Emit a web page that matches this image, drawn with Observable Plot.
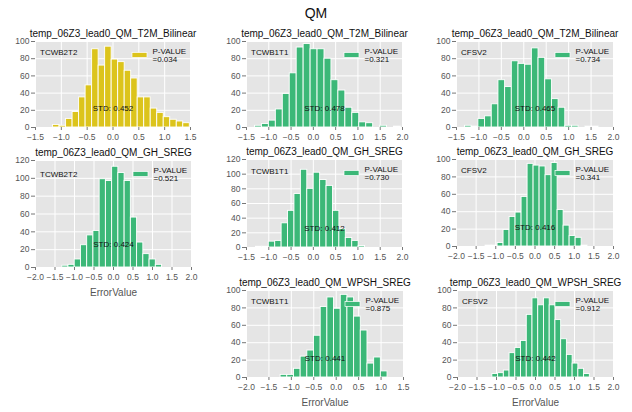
<!DOCTYPE html>
<html>
<head>
<meta charset="utf-8">
<script src="https://cdn.jsdelivr.net/npm/d3@7"></script>
<script src="https://cdn.jsdelivr.net/npm/@observablehq/plot@0.6"></script>
<style>
  html, body { margin: 0; padding: 0; background: #fff; }
  #chart { position: relative; width: 632px; height: 412px; overflow: hidden; font-family: "Liberation Sans", Arial, sans-serif; }
  #title { position: absolute; left: 0; width: 632px; top: 5px; text-align: center; font-size: 14px; color: #111; }
</style>
</head>
<body>
<div id="chart"><div id="title">QM</div></div>
<script>
// ---------- data ----------
const suptitle = "QM";
const panelTitles = [
  "temp_06Z3_lead0_QM_T2M_Bilinear", "temp_06Z3_lead0_QM_T2M_Bilinear", "temp_06Z3_lead0_QM_T2M_Bilinear",
  "temp_06Z3_lead0_QM_GH_SREG", "temp_06Z3_lead0_QM_GH_SREG", "temp_06Z3_lead0_QM_GH_SREG",
  "temp_06Z3_lead0_QM_WPSH_SREG", "temp_06Z3_lead0_QM_WPSH_SREG"
];
const models = ["TCWB2T2", "TCWB1T1", "CFSV2", "TCWB2T2", "TCWB1T1", "CFSV2", "TCWB1T1", "CFSV2"];
const pValues = ["0.034", "0.321", "0.734", "0.521", "0.730", "0.341", "0.875", "0.912"];
const stds = ["0.452", "0.478", "0.465", "0.424", "0.412", "0.416", "0.441", "0.442"];

// histogram bin start, bin width, counts
const binStarts = [-1.16, -1.31, -1.31, -1.315, -1.288, -1.26, -1.24, -1.106];
const binWidths = [0.126, 0.156, 0.149, 0.16, 0.144, 0.153, 0.149, 0.147];
const counts1 = [3, 2, 10, 18, 35, 49, 91, 72, 94, 79, 76, 66, 57, 35, 35, 22, 17, 12, 9, 7, 5];
const counts2 = [2, 4, 8, 21, 39, 63, 93, 97, 91, 91, 80, 55, 43, 23, 17, 6, 5, 0, 2, 0, 1];
const counts3 = [2, 1, 10, 13, 27, 55, 47, 77, 74, 73, 92, 81, 56, 33, 23, 2, 2, 0, 1, 1];
const counts4 = [2, 3, 9, 25, 36, 41, 99, 97, 113, 106, 97, 56, 28, 15, 9, 3];
const counts5 = [1, 1, 8, 9, 33, 50, 73, 106, 80, 102, 92, 84, 50, 25, 13, 9, 2];
const counts6 = [1, 1, 4, 19, 34, 39, 57, 95, 93, 92, 82, 96, 42, 24, 12, 10, 1];
const counts7 = [3, 3, 10, 24, 31, 48, 81, 92, 79, 95, 92, 70, 54, 16, 23, 7];
const counts8 = [4, 5, 8, 28, 34, 42, 72, 91, 83, 91, 83, 66, 44, 26, 16, 10, 4];
const allCounts = [counts1, counts2, counts3, counts4, counts5, counts6, counts7, counts8];

// axis domains / tick labels
const xDomains = [[-1.5, 1.5], [-1.5, 2], [-1.5, 2], [-2, 2], [-1.5, 2], [-2, 2], [-2, 1.5], [-2, 2]];
const xTicks = [
  [-1.5, -1, -0.5, 0, 0.5, 1, 1.5],
  [-1.5, -1, -0.5, 0, 0.5, 1, 1.5, 2],
  [-1.5, -1, -0.5, 0, 0.5, 1, 1.5, 2],
  [-2, -1.5, -1, -0.5, 0, 0.5, 1, 1.5, 2],
  [-1.5, -1, -0.5, 0, 0.5, 1, 1.5, 2],
  [-2, -1.5, -1, -0.5, 0, 0.5, 1, 1.5, 2],
  [-2, -1.5, -1, -0.5, 0, 0.5, 1, 1.5],
  [-2, -1.5, -1, -0.5, 0, 0.5, 1, 1.5, 2]
];
const yMaxes = [100, 100, 100, 120, 120, 100, 100, 100];
const yTicks100 = [0, 20, 40, 60, 80, 100];
const yTicks120 = [0, 20, 40, 60, 80, 100, 120];
const xLabel = "ErrorValue";
const hasXLabel = [false, false, false, true, false, false, true, true];

// ---------- layout (frame boxes in page pixels: left, top, right, bottom) ----------
const frames = [
  [35, 41, 190, 127], [246, 41, 402, 127], [456, 41, 613, 127],
  [35, 160, 191, 267], [246, 159, 402, 247], [456, 159, 613, 246],
  [246, 290, 403, 377], [457, 290, 613, 377]
];
const colors = ["#dcc41c", "#3cb878", "#3cb878", "#3cb878", "#3cb878", "#3cb878", "#3cb878", "#3cb878"];

const ML = 36, MR = 14, MT = 22;
const chart = document.getElementById("chart");
document.getElementById("title").textContent = suptitle;

function legendPatch(color) {
  return (...args) => {
    const d = args.find(a => a && typeof a === "object" && "marginRight" in a && "width" in a);
    return d3.create("svg:rect")
      .attr("x", d.width - d.marginRight - 58)
      .attr("y", d.marginTop + 11.5)
      .attr("width", 15).attr("height", 5)
      .attr("fill", color)
      .attr("stroke", "white").attr("stroke-width", 0.7)
      .node();
  };
}

for (let i = 0; i < 8; i++) {
  const [l, t, r, b] = frames[i];
  const fw = r - l, fh = b - t;
  const MB = hasXLabel[i] ? 34 : 20;
  const bins = allCounts[i].map((c, k) => ({
    x1: binStarts[i] + k * binWidths[i],
    x2: binStarts[i] + (k + 1) * binWidths[i],
    y: c
  }));
  const yt = yMaxes[i] === 120 ? yTicks120 : yTicks100;
  const marks = [
    Plot.frame({fill: "#e5e5e5", stroke: null}),
    Plot.gridX(xTicks[i], {stroke: "white", strokeOpacity: 1, strokeWidth: 1}),
    Plot.gridY(yt, {stroke: "white", strokeOpacity: 1, strokeWidth: 1}),
    Plot.rectY(bins, {x1: "x1", x2: "x2", y: "y", fill: colors[i], stroke: "white", strokeWidth: 0.9}),
    Plot.axisX(xTicks[i], {label: null, tickFormat: d3.format(".1f"), tickSize: 3, tickPadding: 3, stroke: "#777", fill: "#555", fontSize: 8.5}),
    Plot.axisY(yt, {label: null, tickSize: 4, tickPadding: 2, stroke: "#777", fill: "#555", fontSize: 8.5}),
    Plot.text([panelTitles[i]], {frameAnchor: "top", dy: -8, lineAnchor: "middle", fontSize: 10, fill: "#111"}),
    Plot.text([models[i]], {frameAnchor: "top-left", dx: 4.5, dy: 0.13 * fh, lineAnchor: "middle", textAnchor: "start", fontSize: 8, fill: "#111"}),
    Plot.text(["STD: " + stds[i]], {frameAnchor: "bottom", dy: -0.22 * fh, lineAnchor: "middle", fontSize: 8, fill: "#111"}),
    Plot.text(["P-VALUE\n=" + pValues[i]], {frameAnchor: "top-right", dx: -38, dy: 14, lineAnchor: "middle", textAnchor: "start", lineHeight: 1.05, fontSize: 8, fill: "#111"}),
    legendPatch(colors[i])
  ];
  if (hasXLabel[i]) {
    marks.push(Plot.text([xLabel], {frameAnchor: "bottom", dy: 25, lineAnchor: "middle", fontSize: 10, fill: "#555"}));
  }
  const svg = Plot.plot({
    width: fw + ML + MR,
    height: fh + MT + MB,
    marginLeft: ML, marginRight: MR, marginTop: MT, marginBottom: MB,
    x: {domain: xDomains[i], axis: null},
    y: {domain: [0, yMaxes[i]], axis: null},
    style: {fontFamily: "'Liberation Sans', Arial, sans-serif", fontSize: "8.5px", background: "transparent", overflow: "visible"},
    marks
  });
  svg.style.position = "absolute";
  svg.style.left = (l - ML) + "px";
  svg.style.top = (t - MT) + "px";
  chart.appendChild(svg);
}
</script>
</body>
</html>
